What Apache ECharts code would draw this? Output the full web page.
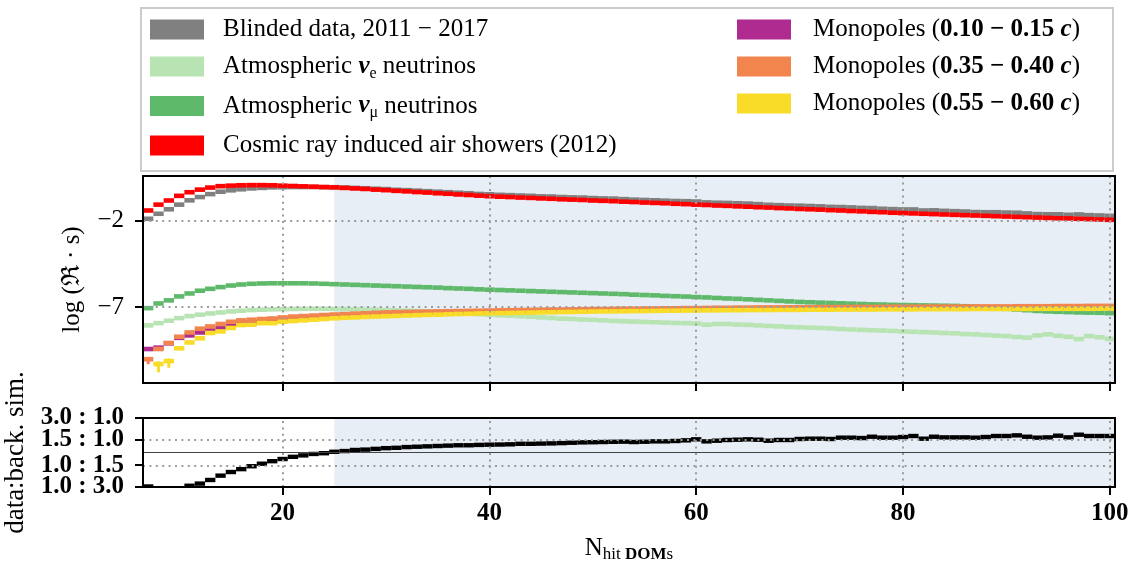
<!DOCTYPE html>
<html>
<head>
<meta charset="utf-8">
<script src="https://cdn.jsdelivr.net/npm/echarts@6/dist/echarts.min.js"></script>
<style>
  html, body { margin: 0; padding: 0; background: #ffffff; }
  #chart { width: 1135px; height: 569px; }
</style>
</head>
<body>
<div id="chart"></div>
<script>
// Bin centres (number of hit DOMs)
const nHitDOMs = [
  7, 8, 9, 10, 11, 12, 13, 14, 15, 16, 17, 18, 19, 20,
  21, 22, 23, 24, 25, 26, 27, 28, 29, 30,
  31, 32, 33, 34, 35, 36, 37, 38, 39, 40,
  41, 42, 43, 44, 45, 46, 47, 48, 49, 50,
  51, 52, 53, 54, 55, 56, 57, 58, 59, 60,
  61, 62, 63, 64, 65, 66, 67, 68, 69, 70,
  71, 72, 73, 74, 75, 76, 77, 78, 79, 80,
  81, 82, 83, 84, 85, 86, 87, 88, 89, 90,
  91, 92, 93, 94, 95, 96, 97, 98, 99, 100
];

// log10 of rate * s, per bin
const blindedData = [
  -1.88, -1.59, -1.33, -1.06, -0.81, -0.62, -0.45, -0.31, -0.23, -0.17, -0.12, -0.09, -0.06, -0.05,
  -0.04, -0.04, -0.04, -0.05, -0.05, -0.07, -0.09, -0.11, -0.14, -0.16,
  -0.20, -0.22, -0.25, -0.28, -0.31, -0.34, -0.37, -0.40, -0.44, -0.46,
  -0.49, -0.51, -0.53, -0.55, -0.58, -0.59, -0.62, -0.64, -0.65, -0.68,
  -0.70, -0.71, -0.74, -0.77, -0.79, -0.81, -0.83, -0.85, -0.86, -0.88,
  -0.93, -0.95, -0.96, -0.98, -1.00, -1.03, -1.07, -1.09, -1.11, -1.12,
  -1.14, -1.16, -1.19, -1.20, -1.22, -1.25, -1.26, -1.30, -1.32, -1.34,
  -1.34, -1.40, -1.39, -1.42, -1.44, -1.46, -1.49, -1.50, -1.50, -1.52,
  -1.53, -1.57, -1.61, -1.62, -1.62, -1.65, -1.63, -1.67, -1.69, -1.71
];
const atmNuE = [
  -8.06, -7.93, -7.79, -7.64, -7.52, -7.44, -7.37, -7.31, -7.25, -7.21, -7.17, -7.15, -7.13, -7.12,
  -7.11, -7.10, -7.10, -7.10, -7.11, -7.12, -7.13, -7.14, -7.15, -7.17,
  -7.19, -7.21, -7.23, -7.25, -7.28, -7.31, -7.34, -7.38, -7.41, -7.44,
  -7.47, -7.50, -7.53, -7.56, -7.60, -7.63, -7.67, -7.69, -7.72, -7.74,
  -7.77, -7.80, -7.82, -7.84, -7.86, -7.88, -7.90, -7.92, -7.93, -7.95,
  -8.02, -7.98, -7.98, -8.01, -8.03, -8.06, -8.09, -8.12, -8.15, -8.17,
  -8.19, -8.21, -8.24, -8.27, -8.30, -8.32, -8.34, -8.36, -8.38, -8.41,
  -8.43, -8.45, -8.47, -8.50, -8.52, -8.56, -8.58, -8.62, -8.65, -8.68,
  -8.73, -8.77, -8.64, -8.58, -8.66, -8.72, -8.85, -8.68, -8.75, -8.84
];
const atmNuMu = [
  -7.06, -6.79, -6.61, -6.38, -6.21, -6.05, -5.94, -5.84, -5.75, -5.69, -5.65, -5.63, -5.62, -5.62,
  -5.62, -5.62, -5.63, -5.65, -5.67, -5.69, -5.71, -5.73, -5.75, -5.77,
  -5.79, -5.81, -5.83, -5.85, -5.87, -5.90, -5.92, -5.94, -5.97, -5.99,
  -6.01, -6.03, -6.05, -6.07, -6.09, -6.11, -6.13, -6.15, -6.17, -6.19,
  -6.21, -6.23, -6.25, -6.28, -6.30, -6.32, -6.35, -6.37, -6.39, -6.42,
  -6.44, -6.47, -6.50, -6.52, -6.55, -6.58, -6.61, -6.64, -6.67, -6.70,
  -6.72, -6.74, -6.76, -6.78, -6.80, -6.82, -6.84, -6.85, -6.87, -6.88,
  -6.89, -6.90, -6.91, -6.92, -6.93, -6.95, -6.98, -7.02, -7.06, -7.10,
  -7.14, -7.18, -7.22, -7.25, -7.27, -7.29, -7.31, -7.32, -7.33, -7.35
];
const cosmicRays = [
  -1.40, -1.06, -0.82, -0.55, -0.34, -0.19, -0.07, 0.01, 0.04, 0.06, 0.07, 0.07, 0.06, 0.04,
  0.02, 0.00, -0.02, -0.04, -0.06, -0.09, -0.12, -0.15, -0.19, -0.22,
  -0.26, -0.29, -0.33, -0.36, -0.40, -0.43, -0.47, -0.50, -0.54, -0.57,
  -0.60, -0.62, -0.65, -0.67, -0.70, -0.72, -0.75, -0.77, -0.79, -0.82,
  -0.84, -0.86, -0.89, -0.91, -0.94, -0.96, -0.98, -1.01, -1.03, -1.06,
  -1.08, -1.11, -1.13, -1.16, -1.18, -1.21, -1.23, -1.26, -1.28, -1.31,
  -1.33, -1.35, -1.38, -1.40, -1.43, -1.45, -1.48, -1.50, -1.53, -1.55,
  -1.57, -1.59, -1.61, -1.63, -1.65, -1.67, -1.69, -1.71, -1.73, -1.75,
  -1.77, -1.79, -1.81, -1.83, -1.85, -1.86, -1.88, -1.90, -1.92, -1.94
];
const monopoles010 = [
  -9.43, -9.35, -9.10, -8.78, -8.64, -8.47, -8.35, -8.23, -8.06, -7.93, -7.88, -7.82, -7.78, -7.72,
  -7.66, -7.63, -7.60, -7.57, -7.54, -7.51, -7.48, -7.45, -7.42, -7.40,
  -7.38, -7.36, -7.35, -7.33, -7.32, -7.30, -7.29, -7.28, -7.27, -7.26,
  -7.25, -7.24, -7.23, -7.22, -7.21, -7.21, -7.20, -7.19, -7.18, -7.18,
  -7.17, -7.16, -7.16, -7.15, -7.15, -7.14, -7.13, -7.13, -7.12, -7.12,
  -7.11, -7.11, -7.10, -7.10, -7.09, -7.09, -7.09, -7.08, -7.08, -7.08,
  -7.07, -7.07, -7.07, -7.06, -7.06, -7.06, -7.05, -7.05, -7.05, -7.05,
  -7.04, -7.04, -7.04, -7.04, -7.03, -7.03, -7.03, -7.03, -7.02, -7.02,
  -7.02, -7.02, -7.02, -7.01, -7.01, -7.01, -7.01, -7.01, -7.00, -7.00
];
const monopoles035 = [
  -10.02, -9.43, -9.08, -8.72, -8.47, -8.25, -8.12, -7.98, -7.85, -7.77, -7.73, -7.69, -7.66, -7.60,
  -7.55, -7.52, -7.49, -7.46, -7.43, -7.41, -7.38, -7.36, -7.33, -7.31,
  -7.29, -7.28, -7.27, -7.26, -7.25, -7.24, -7.23, -7.22, -7.21, -7.20,
  -7.19, -7.18, -7.17, -7.16, -7.15, -7.14, -7.14, -7.13, -7.12, -7.11,
  -7.11, -7.10, -7.09, -7.09, -7.08, -7.08, -7.07, -7.07, -7.06, -7.06,
  -7.05, -7.04, -7.04, -7.03, -7.03, -7.02, -7.02, -7.02, -7.01, -7.01,
  -7.01, -7.00, -7.00, -7.00, -6.99, -6.99, -6.99, -6.99, -6.98, -6.98,
  -6.98, -6.98, -6.97, -6.97, -6.97, -6.97, -6.96, -6.96, -6.96, -6.96,
  -6.95, -6.95, -6.95, -6.95, -6.94, -6.94, -6.94, -6.93, -6.93, -6.93
];
const monopoles055 = [
  null, -10.30, -10.13, -9.39, -9.05, -8.81, -8.50, -8.41, -8.21, -8.04, -8.02, -7.93, -7.93, -7.85,
  -7.81, -7.77, -7.73, -7.69, -7.65, -7.62, -7.60, -7.57, -7.55, -7.53,
  -7.51, -7.49, -7.47, -7.45, -7.44, -7.42, -7.40, -7.39, -7.37, -7.36,
  -7.35, -7.34, -7.33, -7.32, -7.31, -7.30, -7.29, -7.28, -7.27, -7.26,
  -7.25, -7.25, -7.24, -7.23, -7.23, -7.22, -7.21, -7.21, -7.20, -7.20,
  -7.19, -7.19, -7.18, -7.18, -7.17, -7.17, -7.17, -7.16, -7.16, -7.16,
  -7.15, -7.15, -7.15, -7.14, -7.14, -7.14, -7.14, -7.13, -7.13, -7.13,
  -7.13, -7.12, -7.12, -7.12, -7.12, -7.12, -7.11, -7.11, -7.11, -7.11,
  -7.11, -7.11, -7.10, -7.10, -7.10, -7.10, -7.10, -7.10, -7.09, -7.09
];

// Low-statistics bins drawn with vertical uncertainty bars
const monopoles035ErrBins = [7];
const monopoles035ErrDown = [0.29];
const monopoles035ErrUp = [0.13];
const monopoles055ErrBins = [8, 9];
const monopoles055ErrDown = [0.48, 0.39];
const monopoles055ErrUp = [0.15, 0.15];

// log10(data : background simulation)
const ratioLog = [
  -0.47, -0.53, -0.52, -0.50, -0.46, -0.43, -0.38, -0.32, -0.27, -0.23, -0.19, -0.155, -0.12, -0.09,
  -0.06, -0.04, -0.02, -0.01, 0.01, 0.02, 0.035, 0.04, 0.05, 0.06,
  0.065, 0.075, 0.08, 0.085, 0.09, 0.095, 0.10, 0.10, 0.105, 0.108,
  0.11, 0.113, 0.12, 0.12, 0.123, 0.126, 0.13, 0.135, 0.14, 0.142,
  0.145, 0.148, 0.15, 0.145, 0.149, 0.154, 0.154, 0.159, 0.168, 0.182,
  0.154, 0.163, 0.173, 0.177, 0.182, 0.177, 0.163, 0.173, 0.173, 0.187,
  0.191, 0.191, 0.187, 0.205, 0.205, 0.20, 0.218, 0.205, 0.205, 0.214,
  0.228, 0.191, 0.218, 0.209, 0.209, 0.209, 0.205, 0.214, 0.228, 0.228,
  0.237, 0.218, 0.205, 0.209, 0.232, 0.209, 0.246, 0.228, 0.228, 0.228
];

// Axes: ticks and labels
const xTickValues = [20, 40, 60, 80, 100];
const xTickLabels = ['20', '40', '60', '80', '100'];
const rateTickValues = [-2, -7];
const rateTickLabels = ['\u22122', '\u22127'];
const ratioTickRatios = [1 / 3, 1 / 1.5, 1.5, 3];
const ratioTickLabels = ['1.0 : 3.0', '1.0 : 1.5', '1.5 : 1.0', '3.0 : 1.0'];
const unblindedFrom = 25;

const SERIF = '"Liberation Serif", "DejaVu Serif", serif';
const X_MIN = 6.5, X_MAX = 100.5;
const RATE_MIN = -11.4, RATE_MAX = 0.6;
const ratioTickPos = ratioTickRatios.map(r => Math.log10(r));
// tiny margin so the outermost ticks stay inside the axis extent
const RATIO_MIN = ratioTickPos[0] - 1e-6, RATIO_MAX = ratioTickPos[ratioTickPos.length - 1] + 1e-6;
// outer and inner ratio ticks go on two overlaid axes so no label gets dropped
const ratioOuterPos = [ratioTickPos[0], ratioTickPos[3]];
const ratioInnerPos = [ratioTickPos[1], ratioTickPos[2]];

const C = {
  data: '#808080', nuE: '#b8e3b3', nuMu: '#5fb96b', cr: '#ff0000',
  m010: '#b02b8f', m035: '#f2844d', m055: '#f8dc28', shade: '#e7eef5', grid: '#9c9c9c'
};

// One horizontal bar per bin, optional vertical uncertainty bar
function binRenderer(color, barHeight, errBins, errDown, errUp) {
  return function (params, api) {
    const x = api.value(0), y = api.value(1);
    const a = api.coord([x - 0.5, y]);
    const b = api.coord([x + 0.5, y]);
    const children = [{
      type: 'rect',
      shape: { x: a[0], y: a[1] - barHeight / 2, width: b[0] - a[0], height: barHeight },
      style: { fill: color }
    }];
    const k = errBins ? errBins.indexOf(x) : -1;
    if (k >= 0) {
      const lo = api.coord([x, y - errDown[k]]);
      const hi = api.coord([x, y + errUp[k]]);
      children.push({
        type: 'line',
        shape: { x1: lo[0], y1: lo[1], x2: hi[0], y2: hi[1] },
        style: { stroke: color, lineWidth: 3 }
      });
    }
    return { type: 'group', children: children };
  };
}

function binData(values) {
  const out = [];
  values.forEach((v, i) => { if (v !== null) out.push([nHitDOMs[i], v]); });
  return out;
}

function binSeries(name, values, color, gridSide, err) {
  return {
    type: 'custom', name: name, clip: true, z: 3,
    xAxisIndex: gridSide, yAxisIndex: gridSide,
    itemStyle: { color: color },
    renderItem: binRenderer(color, gridSide === 0 ? 4.6 : 4.4,
      err && err[0], err && err[1], err && err[2]),
    data: binData(values),
    silent: true
  };
}

const frameLine = { show: true, onZero: false, lineStyle: { color: '#000', width: 2 } };
function frameAxis(gridIndex, position, min, max) {
  return {
    type: 'value', gridIndex: gridIndex, position: position, min: min, max: max, z: 10,
    axisLine: frameLine, axisTick: { show: false }, axisLabel: { show: false },
    splitLine: { show: false }
  };
}
const tickStyle = { show: true, inside: false, length: 8, lineStyle: { color: '#000', width: 2 } };

const dotted = { type: [2, 4.4], color: C.grid, width: 2 };

function ratioLabelAxis(positions, withLine, name) {
  const ax = {
    type: 'value', gridIndex: 1, position: 'left', min: RATIO_MIN, max: RATIO_MAX, z: 10,
    axisLine: withLine ? frameLine : { show: false },
    axisTick: Object.assign({ customValues: positions }, tickStyle),
    axisLabel: {
      show: true, customValues: positions, margin: 19,
      showMinLabel: true, showMaxLabel: true,
      fontFamily: SERIF, fontSize: 25, fontWeight: 'bold', color: '#000',
      formatter: v => {
        let best = 0;
        ratioTickPos.forEach((p, i) => { if (Math.abs(p - v) < Math.abs(ratioTickPos[best] - v)) best = i; });
        return ratioTickLabels[best];
      }
    },
    splitLine: { show: false }
  };
  if (name) {
    ax.name = name;
    ax.nameLocation = 'middle';
    ax.nameGap = 106;
    ax.nameRotate = 90;
    ax.nameTextStyle = { fontFamily: SERIF, fontSize: 27, color: '#000' };
  }
  return ax;
}

const names = {
  data: 'Blinded data, 2011 \u2212 2017',
  nuE: 'Atmospheric \u03bde neutrinos',
  nuMu: 'Atmospheric \u03bd\u03bc neutrinos',
  cr: 'Cosmic ray induced air showers (2012)',
  m010: 'Monopoles (0.10 \u2212 0.15 c)',
  m035: 'Monopoles (0.35 \u2212 0.40 c)',
  m055: 'Monopoles (0.55 \u2212 0.60 c)'
};
const legendText = {};
legendText[names.data] = '{n|Blinded data, 2011 \u2212 2017}';
legendText[names.nuE] = '{n|Atmospheric }{nu|\u03bd}{sub|e}{n| neutrinos}';
legendText[names.nuMu] = '{n|Atmospheric }{nu|\u03bd}{sub|\u03bc}{n| neutrinos}';
legendText[names.cr] = '{n|Cosmic ray induced air showers (2012)}';
legendText[names.m010] = '{n|Monopoles (}{b|0.10 \u2212 0.15 }{bi|c}{n|)}';
legendText[names.m035] = '{n|Monopoles (}{b|0.35 \u2212 0.40 }{bi|c}{n|)}';
legendText[names.m055] = '{n|Monopoles (}{b|0.55 \u2212 0.60 }{bi|c}{n|)}';

function legendRich(spacer) {
  return {
    sp: { width: spacer, lineHeight: 30 },
    n: { fontFamily: SERIF, fontSize: 25, lineHeight: 30, color: '#000' },
    nu: { fontFamily: SERIF, fontSize: 25, lineHeight: 30, color: '#000', fontWeight: 'bold', fontStyle: 'italic' },
    sub: { fontFamily: SERIF, fontSize: 16, color: '#000', verticalAlign: 'bottom' },
    b: { fontFamily: SERIF, fontSize: 25, lineHeight: 30, color: '#000', fontWeight: 'bold' },
    bi: { fontFamily: SERIF, fontSize: 25, lineHeight: 30, color: '#000', fontWeight: 'bold', fontStyle: 'italic' }
  };
}
function legendBlock(left, items, spacer, gap) {
  return {
    show: true, orient: 'vertical', left: left, top: 17,
    itemWidth: 54, itemHeight: 20, itemGap: gap, selectedMode: false,
    icon: 'rect', padding: 0,
    data: items.map(n => ({ name: n, icon: 'rect' })),
    formatter: n => '{sp| }' + legendText[n],
    textStyle: { fontFamily: SERIF, fontSize: 25, color: '#000', rich: legendRich(spacer) }
  };
}

const chart = echarts.init(document.getElementById('chart'), null, { renderer: 'canvas' });

const option = {
  animation: false,
  backgroundColor: '#ffffff',
  textStyle: { fontFamily: SERIF },
  grid: [
    { left: 143, top: 176, width: 972, height: 207, outerBoundsMode: 'none', containLabel: false },
    { left: 143, top: 418, width: 972, height: 69, outerBoundsMode: 'none', containLabel: false }
  ],
  xAxis: [
    {
      type: 'value', gridIndex: 0, position: 'bottom', min: X_MIN, max: X_MAX, z: 10,
      axisLine: frameLine,
      axisTick: Object.assign({ customValues: xTickValues }, tickStyle),
      axisLabel: { show: false }, splitLine: { show: false }
    },
    frameAxis(0, 'top', X_MIN, X_MAX),
    {
      type: 'value', gridIndex: 1, position: 'bottom', min: X_MIN, max: X_MAX, z: 10,
      axisLine: frameLine,
      axisTick: Object.assign({ customValues: xTickValues }, tickStyle),
      axisLabel: {
        show: true, customValues: xTickValues, margin: 14,
        fontFamily: SERIF, fontSize: 25, fontWeight: 'bold', color: '#000',
        formatter: v => xTickLabels[xTickValues.indexOf(v)]
      },
      splitLine: { show: false },
      name: '{n|N}{s|hit }{sb|DOM}{s|s}',
      nameLocation: 'middle', nameGap: 46,
      nameTextStyle: {
        rich: {
          n: { fontFamily: SERIF, fontSize: 25, lineHeight: 30, color: '#000' },
          s: { fontFamily: SERIF, fontSize: 17, color: '#000', verticalAlign: 'bottom' },
          sb: { fontFamily: SERIF, fontSize: 17, color: '#000', fontWeight: 'bold', verticalAlign: 'bottom' }
        }
      }
    },
    frameAxis(1, 'top', X_MIN, X_MAX)
  ],
  yAxis: [
    {
      type: 'value', gridIndex: 0, position: 'left', min: RATE_MIN, max: RATE_MAX, z: 10,
      axisLine: frameLine,
      axisTick: Object.assign({ customValues: rateTickValues }, tickStyle),
      axisLabel: {
        show: true, customValues: rateTickValues, margin: 19,
        fontFamily: SERIF, fontSize: 25, color: '#000',
        formatter: v => rateTickLabels[rateTickValues.indexOf(v)]
      },
      splitLine: { show: false },
      name: 'log (\u211c \u00b7 s)', nameLocation: 'middle', nameGap: 58, nameRotate: 90,
      nameTextStyle: { fontFamily: SERIF, fontSize: 25, color: '#000' }
    },
    frameAxis(0, 'right', RATE_MIN, RATE_MAX),
    ratioLabelAxis(ratioOuterPos, true, 'data:back. sim.'),
    frameAxis(1, 'right', RATIO_MIN, RATIO_MAX),
    ratioLabelAxis(ratioInnerPos, false, null)
  ],
  legend: [
    legendBlock(150, [names.data, names.nuE, names.nuMu, names.cr], 14, 12),
    legendBlock(737, [names.m010, names.m035, names.m055], 17, 12)
  ],
  graphic: [
    {
      type: 'rect', z: -1, silent: true,
      shape: { x: 141, y: 8, width: 972, height: 163 },
      style: { fill: 'none', stroke: '#cccccc', lineWidth: 2 }
    }
  ],
  series: [
    // shaded unblinded range and dotted grid, main panel
    {
      type: 'line', xAxisIndex: 0, yAxisIndex: 0, data: [], z: 1, silent: true,
      markArea: {
        silent: true, itemStyle: { color: C.shade, borderWidth: 0 },
        data: [[{ xAxis: unblindedFrom }, { xAxis: X_MAX }]]
      },
      markLine: {
        silent: true, symbol: ['none', 'none'], label: { show: false }, lineStyle: dotted,
        data: xTickValues.map(v => ({ xAxis: v })).concat(rateTickValues.map(v => ({ yAxis: v })))
      }
    },
    // shaded range, dotted grid and unity line, ratio panel
    {
      type: 'line', xAxisIndex: 2, yAxisIndex: 2, data: [], z: 1, silent: true,
      markArea: {
        silent: true, itemStyle: { color: C.shade, borderWidth: 0 },
        data: [[{ xAxis: unblindedFrom }, { xAxis: X_MAX }]]
      },
      markLine: {
        silent: true, symbol: ['none', 'none'], label: { show: false }, lineStyle: dotted,
        data: xTickValues.map(v => ({ xAxis: v }))
          .concat(ratioInnerPos.map(v => ({ yAxis: v })))
          .concat([{ yAxis: 0, lineStyle: { type: 'solid', color: '#444444', width: 1.2 } }])
      }
    },
    binSeries(names.data, blindedData, C.data, 0),
    binSeries(names.nuE, atmNuE, C.nuE, 0),
    binSeries(names.nuMu, atmNuMu, C.nuMu, 0),
    binSeries(names.cr, cosmicRays, C.cr, 0),
    binSeries(names.m010, monopoles010, C.m010, 0),
    binSeries(names.m035, monopoles035, C.m035, 0,
      [monopoles035ErrBins, monopoles035ErrDown, monopoles035ErrUp]),
    binSeries(names.m055, monopoles055, C.m055, 0,
      [monopoles055ErrBins, monopoles055ErrDown, monopoles055ErrUp]),
    {
      type: 'custom', name: 'ratio', clip: true, z: 3,
      xAxisIndex: 2, yAxisIndex: 2,
      itemStyle: { color: '#000' },
      renderItem: binRenderer('#000000', 4.4),
      data: binData(ratioLog),
      silent: true
    }
  ]
};

chart.setOption(option);
</script>
</body>
</html>
